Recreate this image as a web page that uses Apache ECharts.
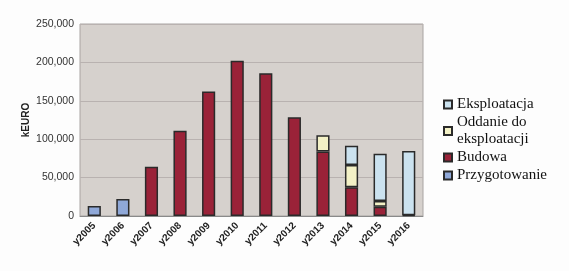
<!DOCTYPE html>
<html><head><meta charset="utf-8">
<script src="https://cdn.jsdelivr.net/npm/echarts@6/dist/echarts.min.js"></script>
<style>html,body{margin:0;padding:0;background:#fdfdfd}#c{width:569px;height:271px}</style>
</head><body><div id="c"></div>
<script>
var categories = ['y2005','y2006','y2007','y2008','y2009','y2010','y2011','y2012','y2013','y2014','y2015','y2016'];
var przygotowanie = [13000, 22000, null, null, null, null, null, null, null, null, null, null];
var budowa = [null, null, 64000, 111000, 162000, 202000, 186000, 128500, 84000, 37500, 12000, 1000];
var oddanie = [null, null, null, null, null, null, null, null, 21000, 29000, 7500, null];
var eksploatacja = [null, null, null, null, null, null, null, null, null, 25000, 61500, 83500];
var yTicks = [0, 50000, 100000, 150000, 200000, 250000];

function mk(name, data, color) {
  return {
    name: name, type: 'bar', stack: 'a', data: data, barWidth: '46%',
    itemStyle: { color: color, borderColor: '#2a2a2a', borderWidth: 1.5 }
  };
}
var chart = echarts.init(document.getElementById('c'));
chart.setOption({
  animation: false,
  backgroundColor: '#fdfdfd',
  grid: { left: 80, right: 146, top: 24, bottom: 55, show: true, backgroundColor: '#d6d1cd', borderColor: '#a9a4a2', borderWidth: 1 },
  xAxis: {
    type: 'category', data: categories,
    axisLine: { lineStyle: { color: '#8a8a8a' } },
    axisTick: { show: false },
    axisLabel: { rotate: 45, interval: 0, fontFamily: 'Liberation Sans', fontSize: 10, fontWeight: 'bold', color: '#222', margin: 8 }
  },
  yAxis: {
    type: 'value', min: 0, max: 250000, interval: 50000,
    name: 'kEURO', nameLocation: 'middle', nameGap: 49, nameMoveOverlap: false,
    nameTextStyle: { fontFamily: 'Liberation Sans', fontSize: 10, fontWeight: 'bold', color: '#222' },
    axisLine: { show: false }, axisTick: { show: false },
    splitLine: { lineStyle: { color: '#b9b2b0', width: 1 } },
    axisLabel: { fontFamily: 'Liberation Sans', fontSize: 10.5, color: '#333', margin: 6,
      formatter: function (v) { return yTicks.indexOf(v) >= 0 ? (v === 0 ? '0' : v.toLocaleString('en-US')) : ''; } }
  },
  legend: {
    orient: 'vertical', left: 438, top: 91, itemWidth: 8, itemHeight: 8, itemGap: 1,
    icon: 'rect',
    textStyle: { fontFamily: 'Liberation Serif', fontSize: 15, color: '#111', lineHeight: 17 },
    data: ['Eksploatacja', 'Oddanie do\neksploatacji', 'Budowa', 'Przygotowanie']
  },
  series: [
    mk('Przygotowanie', przygotowanie, '#8fa8d8'),
    mk('Budowa', budowa, '#9a2238'),
    mk('Oddanie do\neksploatacji', oddanie, '#f3f1c6'),
    mk('Eksploatacja', eksploatacja, '#cbe2ef')
  ]
});
</script></body></html>
